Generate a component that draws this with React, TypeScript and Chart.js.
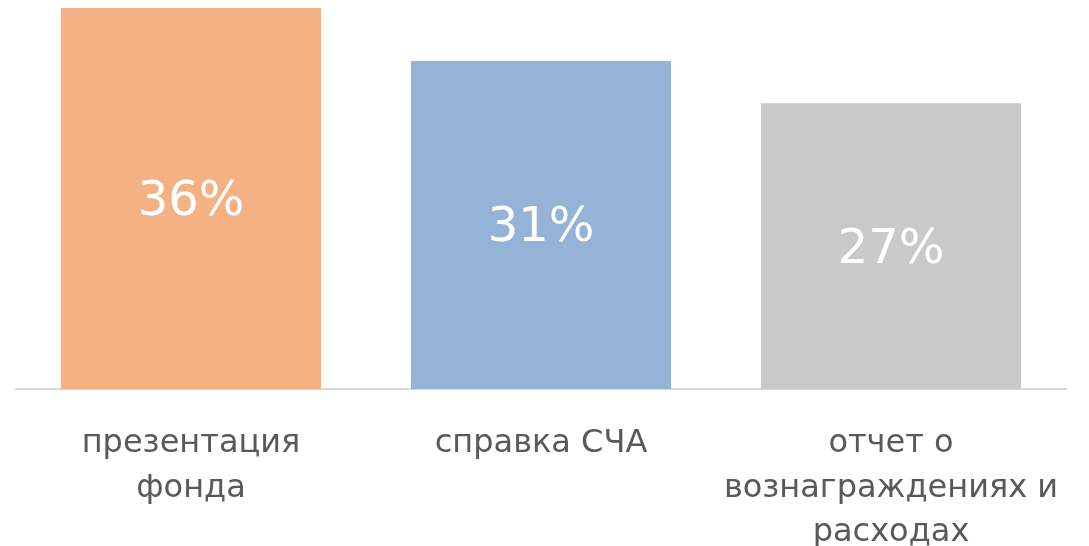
import React, { useEffect, useRef } from "react";
import { Chart, registerables } from "chart.js";

Chart.register(...registerables);

const categories: string[][] = [
  ["презентация", "фонда"],
  ["справка СЧА"],
  ["отчет о", "вознаграждениях и", "расходах"],
];
const values: number[] = [36, 31, 27];
const barColors: string[] = ["#F4B183", "#95B3D7", "#C9C9C9"];

const FONT = "'DejaVu Sans', sans-serif";

const valueLabels = {
  id: "valueLabels",
  afterDatasetsDraw(chart: any) {
    const ctx = chart.ctx;
    const meta = chart.getDatasetMeta(0);
    ctx.save();
    ctx.fillStyle = "#FFFFFF";
    ctx.font = `48px ${FONT}`;
    ctx.textAlign = "center";
    ctx.textBaseline = "middle";
    meta.data.forEach((el: any, i: number) => {
      const p = el.getProps(["x", "y", "base"], true);
      ctx.fillText(values[i] + "%", p.x, (p.y + p.base) / 2 + 4);
    });
    ctx.restore();
  },
};

export default function App() {
  const ref = useRef<HTMLCanvasElement>(null);
  useEffect(() => {
    if (!ref.current) return;
    const chart = new Chart(ref.current, {
      type: "bar",
      data: {
        labels: categories,
        datasets: [
          {
            data: values,
            backgroundColor: barColors,
            borderWidth: 0,
            barPercentage: 0.743,
            categoryPercentage: 1,
          },
        ],
      },
      options: {
        animation: false,
        responsive: true,
        maintainAspectRatio: false,
        layout: { padding: { left: 16, right: 23, top: 8, bottom: 0 } },
        plugins: { legend: { display: false }, tooltip: { enabled: false } },
        scales: {
          x: {
            grid: { display: false },
            border: { display: true, color: "#D9D9D9", width: 2 },
            ticks: {
              color: "#595959",
              font: { family: FONT, size: 32, lineHeight: 1.4 },
              padding: 24,
              maxRotation: 0,
              autoSkip: false,
            },
            afterFit(scale: any) {
              scale.height = 157;
            },
          },
          y: {
            display: false,
            min: 0,
            max: 36,
          },
        },
      },
      plugins: [valueLabels],
    });
    return () => chart.destroy();
  }, []);
  return (
    <div style={{ position: "fixed", left: 0, top: 0, width: 1089, height: 546, background: "#fff" }}>
      <canvas ref={ref} />
    </div>
  );
}
